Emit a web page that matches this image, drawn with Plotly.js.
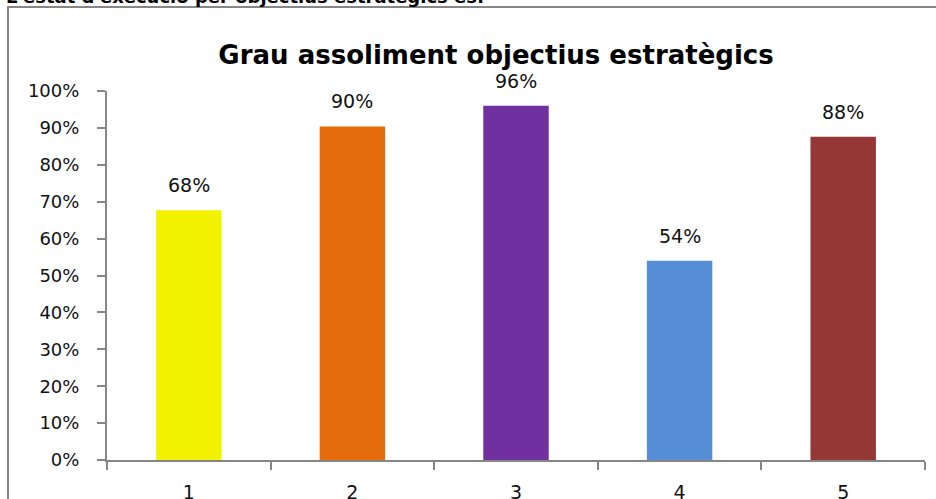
<!DOCTYPE html>
<html>
<head>
<meta charset="utf-8">
<script src="https://cdn.plot.ly/plotly-3.0.1.min.js"></script>
<style>html,body{margin:0;padding:0;background:#fff;}#chart{width:936px;height:499px;}</style>
</head>
<body>
<div id="chart"></div>
<script>
const categories = ["1", "2", "3", "4", "5"];
const values = [0.677, 0.904, 0.96, 0.54, 0.876];
const colors = ["#F2F200", "#E46C0A", "#7030A0", "#558ED5", "#953735"];
const yTickVals = [0, 0.1, 0.2, 0.3, 0.4, 0.5, 0.6, 0.7, 0.8, 0.9, 1.0];
const yTickText = ["0%", "10%", "20%", "30%", "40%", "50%", "60%", "70%", "80%", "90%", "100%"];
const titleText = "Grau assoliment objectius estratègics";
const headerText = "L'estat d'execució per objectius estratègics és:";

const FONT = "DejaVu Sans, sans-serif";
const axisColor = "#868686";

const trace = {
  type: "bar",
  x: categories,
  y: values,
  marker: {color: colors, line: {width: 0}},
  hoverinfo: "skip"
};

const labelAnnotations = categories.map((c, i) => ({
  x: i, y: values[i], xref: "x", yref: "y",
  text: Math.round(values[i] * 100) + "%",
  showarrow: false, yanchor: "middle", yshift: 25,
  font: {family: FONT, size: 19, color: "#111"}
}));

const layout = {
  width: 936, height: 499,
  margin: {l: 107, r: 11, t: 91, b: 39, pad: 0},
  paper_bgcolor: "#fff", plot_bgcolor: "#fff",
  showlegend: false,
  bargap: 0.6,
  title: {
    text: "<b>" + titleText + "</b>",
    font: {family: FONT, size: 26, color: "#000"},
    x: 0.4756, xref: "paper", xanchor: "center",
    y: 1 - 55 / 499, yref: "container", yanchor: "middle"
  },
  xaxis: {
    type: "category",
    range: [-0.5, 4.5], fixedrange: true,
    showgrid: false, zeroline: false,
    showline: true, linecolor: axisColor, linewidth: 2,
    ticks: "outside", ticklen: 8, tickwidth: 2, tickcolor: axisColor,
    tickson: "boundaries",
    ticklabelstandoff: 14,
    tickfont: {family: FONT, size: 19, color: "#111"}
  },
  yaxis: {
    range: [0, 1], fixedrange: true,
    tickvals: yTickVals, ticktext: yTickText,
    showgrid: false, zeroline: false,
    showline: true, linecolor: axisColor, linewidth: 2,
    ticks: "outside", ticklen: 8, tickwidth: 2, tickcolor: axisColor,
    ticklabelstandoff: 14,
    tickfont: {family: FONT, size: 18, color: "#111"}
  },
  shapes: [{
    type: "rect", xref: "paper", yref: "paper",
    x0: (8 - 107) / 818, x1: (945 - 107) / 818,
    y0: (460 - 510) / 369, y1: (460 - 7) / 369,
    line: {color: axisColor, width: 2}, fillcolor: "rgba(0,0,0,0)", layer: "below"
  }],
  annotations: labelAnnotations.concat([{
    xref: "paper", yref: "paper",
    x: (4 - 107) / 818, xanchor: "left",
    y: (460 + 3) / 369, yanchor: "middle",
    text: "<b>" + headerText + "</b>", showarrow: false,
    font: {family: FONT, size: 18, color: "#000"}
  }])
};

Plotly.newPlot("chart", [trace], layout, {displayModeBar: false, staticPlot: true});
</script>
</body>
</html>
